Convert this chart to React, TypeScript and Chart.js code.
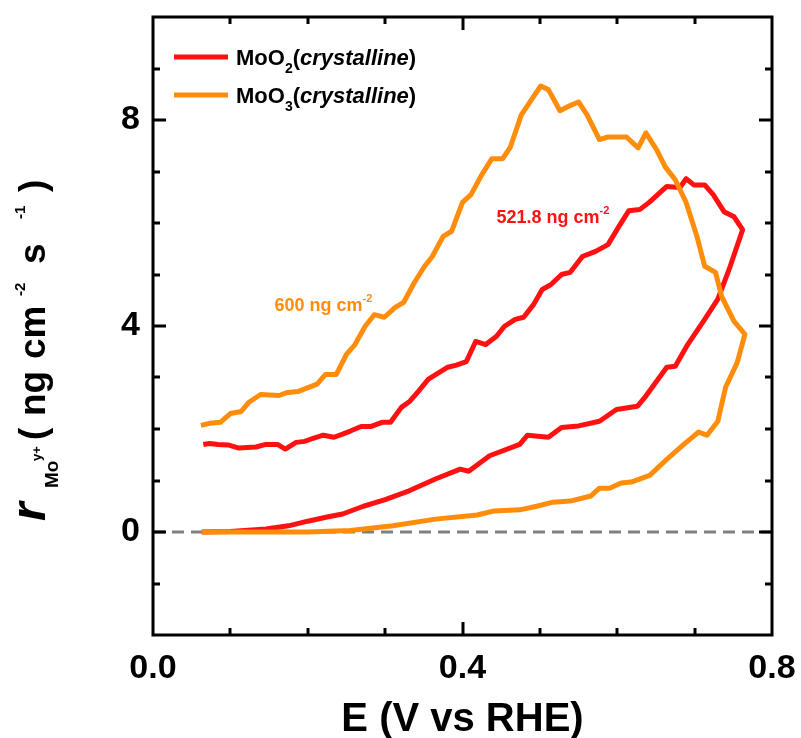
import { useEffect, useRef } from "react";
import { Chart, registerables } from "chart.js";

Chart.register(...registerables);

const FONT = "'Liberation Sans', Arial, Helvetica, sans-serif";

// MoO2 (crystalline): forward sweep, then the return sweep
const moo2Potential = [
  0.063, 0.1, 0.146, 0.175, 0.2, 0.225, 0.245, 0.272, 0.3, 0.331, 0.365, 0.397, 0.408, 0.435, 0.474,
  0.484, 0.511, 0.528, 0.55, 0.577, 0.599, 0.626, 0.637, 0.664, 0.675, 0.691, 0.713, 0.73, 0.746, 0.762,
  0.751, 0.738, 0.724, 0.713, 0.699, 0.689, 0.681, 0.664, 0.642, 0.629, 0.615, 0.602, 0.588, 0.572,
  0.555, 0.539, 0.528, 0.514, 0.503, 0.492, 0.479, 0.468, 0.454, 0.444, 0.43, 0.417, 0.405, 0.392,
  0.381, 0.37, 0.356, 0.343, 0.332, 0.321, 0.307, 0.296, 0.282, 0.269, 0.255, 0.245, 0.234, 0.22,
  0.207, 0.196, 0.185, 0.171, 0.161, 0.146, 0.133, 0.111, 0.097, 0.084, 0.073, 0.065,
];
const moo2Rate = [
  0, 0.01, 0.06, 0.12, 0.21, 0.29, 0.35, 0.5, 0.63, 0.8, 1.03, 1.22, 1.18, 1.48, 1.7,
  1.88, 1.84, 2.03, 2.06, 2.15, 2.38, 2.44, 2.64, 3.2, 3.22, 3.64, 4.13, 4.52, 5.16, 5.87,
  6.12, 6.22, 6.55, 6.74, 6.74, 6.86, 6.69, 6.71, 6.41, 6.26, 6.24, 5.93, 5.58, 5.45,
  5.35, 5.04, 5.0, 4.8, 4.71, 4.42, 4.17, 4.13, 3.99, 3.8, 3.64, 3.7, 3.31, 3.24,
  3.2, 3.1, 2.97, 2.73, 2.54, 2.42, 2.13, 2.13, 2.05, 2.05, 1.96, 1.9, 1.84, 1.88,
  1.82, 1.76, 1.74, 1.61, 1.7, 1.7, 1.65, 1.63, 1.69, 1.7, 1.72, 1.7,
];

// MoO3 (crystalline): forward sweep, then the return sweep
const moo3Potential = [
  0.063, 0.1, 0.15, 0.2, 0.255, 0.31, 0.365, 0.419, 0.441, 0.474, 0.496, 0.517, 0.539, 0.566,
  0.577, 0.59, 0.605, 0.618, 0.642, 0.664, 0.686, 0.705, 0.716, 0.73, 0.74, 0.755, 0.765,
  0.751, 0.735, 0.727, 0.713, 0.703, 0.689, 0.675, 0.662, 0.651, 0.637, 0.627, 0.612, 0.599,
  0.588, 0.577, 0.561, 0.55, 0.539, 0.526, 0.511, 0.501, 0.489, 0.476, 0.462, 0.452, 0.438,
  0.425, 0.411, 0.4, 0.386, 0.375, 0.361, 0.351, 0.338, 0.324, 0.313, 0.299, 0.286, 0.274,
  0.261, 0.25, 0.237, 0.223, 0.212, 0.188, 0.174, 0.163, 0.139, 0.124, 0.114, 0.1, 0.087,
  0.073, 0.062,
];
const moo3Rate = [
  0, 0, 0, 0, 0.03, 0.12, 0.25, 0.33, 0.41, 0.43, 0.5, 0.58, 0.6, 0.7,
  0.85, 0.85, 0.95, 0.97, 1.1, 1.41, 1.7, 1.94, 1.88, 2.15, 2.81, 3.29, 3.84,
  4.09, 4.57, 5.04, 5.16, 5.74, 6.4, 6.84, 7.09, 7.42, 7.75, 7.46, 7.67, 7.67,
  7.67, 7.62, 8.1, 8.35, 8.28, 8.18, 8.59, 8.66, 8.39, 8.1, 7.48, 7.25, 7.25,
  6.94, 6.55, 6.4, 5.84, 5.74, 5.35, 5.16, 4.85, 4.46, 4.36, 4.17, 4.22, 3.99,
  3.64, 3.45, 3.06, 3.06, 2.87, 2.73, 2.71, 2.65, 2.67, 2.52, 2.34, 2.3, 2.13,
  2.11, 2.07,
];

const xTickLabels = [0, 0.4, 0.8];
const yTickLabels = [0, 4, 8];

const seriesOxide = ["MoO", "MoO"];
const seriesIndex = ["2", "3"];
const seriesPhase = ["crystalline", "crystalline"];
const seriesColors = ["#ff1111", "#ff8c0a"];
const loadingValues = ["521.8", "600"];

const toPoints = (xs: number[], ys: number[]) => xs.map((x, i) => ({ x, y: ys[i] }));

function font(size: number, style = "") {
  return `${style} bold ${size}px ${FONT}`.trim();
}

// draws a run of [text, fontSize, baselineShift, italic] pieces left to right
function drawRun(
  ctx: CanvasRenderingContext2D,
  pieces: [string, number, number, boolean?][],
  x: number,
  y: number
) {
  let cx = x;
  for (const [text, size, shift, italic] of pieces) {
    ctx.font = font(size, italic ? "italic" : "");
    ctx.fillText(text, cx, y + shift);
    cx += ctx.measureText(text).width;
  }
}

const framePlugin = {
  id: "frameAndText",
  afterDraw(chart: any) {
    const { ctx, chartArea: a, scales } = chart;
    const xs = scales.x;
    const ys = scales.y;
    ctx.save();

    // frame
    ctx.strokeStyle = "#000";
    ctx.lineWidth = 3;
    ctx.strokeRect(a.left, a.top, a.right - a.left, a.bottom - a.top);

    // inward ticks on all four sides
    ctx.lineCap = "butt";
    ctx.beginPath();
    for (let i = 1; i < 8; i++) {
      const px = Math.round(xs.getPixelForValue(i / 10));
      const len = i % 4 === 0 ? 13 : 7;
      ctx.moveTo(px, a.bottom);
      ctx.lineTo(px, a.bottom - len);
      ctx.moveTo(px, a.top);
      ctx.lineTo(px, a.top + len);
    }
    for (let v = -1; v < 10; v++) {
      const py = Math.round(ys.getPixelForValue(v));
      const len = v % 4 === 0 ? 13 : 7;
      ctx.moveTo(a.left, py);
      ctx.lineTo(a.left + len, py);
      ctx.moveTo(a.right, py);
      ctx.lineTo(a.right - len, py);
    }
    ctx.stroke();

    // legend
    ctx.textBaseline = "alphabetic";
    ctx.textAlign = "left";
    for (let i = 0; i < 2; i++) {
      const ly = 57 + i * 38;
      ctx.strokeStyle = seriesColors[i];
      ctx.lineWidth = 5;
      ctx.beginPath();
      ctx.moveTo(174, ly);
      ctx.lineTo(228, ly);
      ctx.stroke();
      ctx.fillStyle = "#000";
      drawRun(
        ctx,
        [
          [seriesOxide[i], 22, 0],
          [seriesIndex[i], 14, 8],
          ["(", 22, 0],
          [seriesPhase[i], 22, 0, true],
          [")", 22, 0],
        ],
        236,
        ly + 8
      );
    }

    // loading annotations
    const notes = [
      { e: 0.444, r: 6.0 },
      { e: 0.157, r: 4.3 },
    ];
    notes.forEach((n, i) => {
      ctx.fillStyle = seriesColors[i];
      drawRun(
        ctx,
        [
          [`${loadingValues[i]} ng cm`, 18, 0],
          ["-2", 11, -9],
        ],
        xs.getPixelForValue(n.e),
        ys.getPixelForValue(n.r)
      );
    });

    // x-axis title
    ctx.fillStyle = "#000";
    ctx.font = font(40);
    ctx.textAlign = "center";
    ctx.fillText("E (V vs RHE)", (a.left + a.right) / 2, 731);

    // y-axis title, rotated; each piece starts at the given height
    ctx.save();
    ctx.translate(45, 0);
    ctx.rotate(-Math.PI / 2);
    ctx.textAlign = "left";
    const parts: [string, number, number, number, boolean?][] = [
      ["r", 48, 521, 0, true],
      ["Mo", 19, 488, 13],
      ["y+", 13, 461, -4],
      ["(", 37, 440, 0],
      ["ng", 37, 416, 0],
      ["cm", 37, 359, 0],
      ["-2", 15, 296, -20],
      ["s", 37, 264, 0],
      ["-1", 15, 219, -20],
      [")", 37, 192, 0],
    ];
    for (const [text, size, start, shift, italic] of parts) {
      ctx.font = font(size, italic ? "italic" : "");
      ctx.fillText(text, -start, shift);
    }
    ctx.restore();

    ctx.restore();
  },
};

export default function App() {
  const ref = useRef<HTMLCanvasElement | null>(null);

  useEffect(() => {
    if (!ref.current) return;
    const chart = new Chart(ref.current, {
      type: "scatter",
      data: {
        datasets: [
          {
            label: "MoO3(crystalline)",
            data: toPoints(moo3Potential, moo3Rate),
            showLine: true,
            borderColor: seriesColors[1],
            borderWidth: 5,
            pointRadius: 0,
            borderJoinStyle: "round",
            order: 0,
          },
          {
            label: "MoO2(crystalline)",
            data: toPoints(moo2Potential, moo2Rate),
            showLine: true,
            borderColor: seriesColors[0],
            borderWidth: 5,
            pointRadius: 0,
            borderJoinStyle: "round",
            order: 1,
          },
          {
            label: "baseline",
            data: [
              { x: 0, y: 0 },
              { x: 0.8, y: 0 },
            ],
            showLine: true,
            borderColor: "#808080",
            borderWidth: 3,
            borderDash: [12, 7],
            pointRadius: 0,
            order: 2,
          },
        ],
      },
      options: {
        animation: false,
        responsive: false,
        devicePixelRatio: 1,
        layout: { padding: { top: 17, right: 29, left: 0, bottom: 0 } },
        plugins: { legend: { display: false }, tooltip: { enabled: false } },
        scales: {
          x: {
            type: "linear",
            min: 0,
            max: 0.8,
            grid: { display: false, drawTicks: false },
            border: { display: false },
            afterBuildTicks: (s: any) => {
              s.ticks = xTickLabels.map((value) => ({ value }));
            },
            afterFit: (s: any) => {
              s.height = 103;
              s.paddingLeft = 0;
              s.paddingRight = 0;
            },
            ticks: {
              padding: 13,
              color: "#000",
              font: { family: FONT, size: 34, weight: "bold" },
              maxRotation: 0,
              callback: (v: any) => Number(v).toFixed(1),
            },
          },
          y: {
            type: "linear",
            min: -2,
            max: 10,
            grid: { display: false, drawTicks: false },
            border: { display: false },
            afterBuildTicks: (s: any) => {
              s.ticks = yTickLabels.map((value) => ({ value }));
            },
            afterFit: (s: any) => {
              s.width = 153;
              s.paddingTop = 0;
              s.paddingBottom = 0;
            },
            ticks: {
              padding: 13,
              color: "#000",
              font: { family: FONT, size: 34, weight: "bold" },
              callback: (v: any) => String(v),
            },
          },
        },
      },
      plugins: [framePlugin],
    });
    return () => chart.destroy();
  }, []);

  return (
    <div style={{ position: "absolute", left: 0, top: 0, width: 801, height: 738, background: "#fff" }}>
      <canvas ref={ref} width={801} height={738} />
    </div>
  );
}
